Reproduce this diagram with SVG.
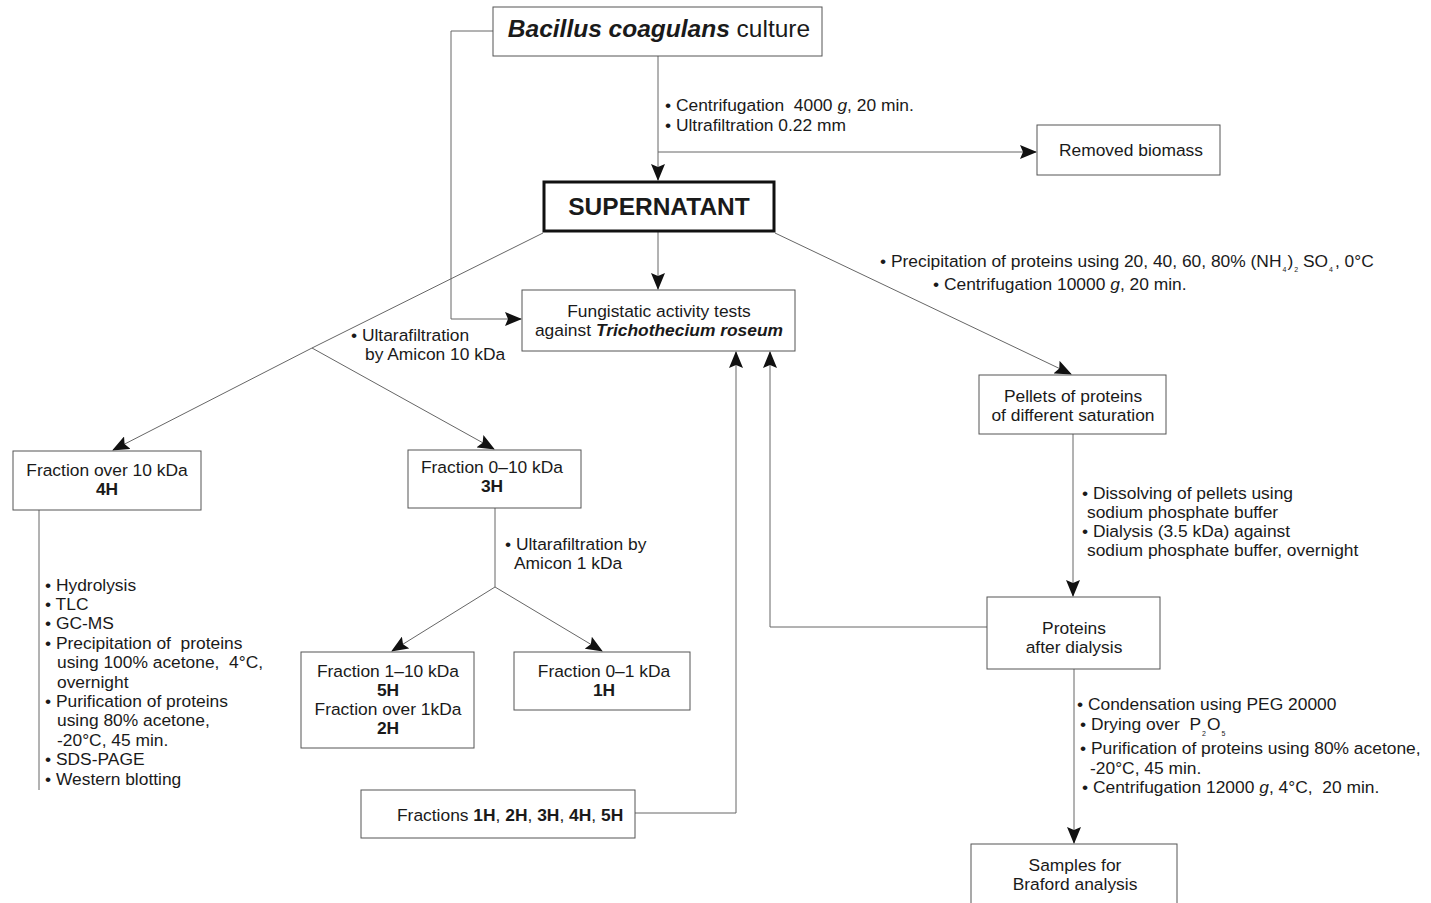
<svg xmlns="http://www.w3.org/2000/svg" width="1431" height="903" viewBox="0 0 1431 903">
<style>
text{font-family:"Liberation Sans",Arial,sans-serif;font-size:17.4px;fill:#1a1a1a}
.c{text-anchor:middle}
.b{font-weight:bold}
.bi{font-weight:bold;font-style:italic}
.big{font-size:24.5px}
.box{fill:#fff;stroke:#555;stroke-width:1}
.ln{fill:none;stroke:#666;stroke-width:1}
.arr{marker-end:url(#ah)}
.sub{font-size:7px}
</style>
<defs>
<marker id="ah" markerUnits="userSpaceOnUse" markerWidth="17" markerHeight="14" refX="16" refY="7" orient="auto" viewBox="0 0 17 14">
<path d="M0,0 L17,7 L0,14 L3,7 z" fill="#111"/>
</marker>
</defs>
<rect width="1431" height="903" fill="#fff"/>
<g id="connectors">
<path class="ln arr" d="M658,56 V180"/>
<path class="ln arr" d="M658,152 H1036"/>
<path class="ln arr" d="M493,31 H451 V319 H521"/>
<path class="ln arr" d="M658,232 V289"/>
<path class="ln arr" d="M543,233 L312,348 L113,450"/>
<path class="ln arr" d="M312,348 L494,449"/>
<path class="ln arr" d="M775,233 L1071,374"/>
<path class="ln arr" d="M1073,434 V596"/>
<path class="ln arr" d="M987,627 H770 V352"/>
<path class="ln arr" d="M635,813 H736 V352"/>
<path class="ln arr" d="M1074,669 V843"/>
<path class="ln" d="M39,510 V790"/>
<path class="ln" d="M495,508 V587"/>
<path class="ln arr" d="M495,587 L392,651"/>
<path class="ln arr" d="M495,587 L602,651"/>
</g>
<g id="labels">
<text x="665" y="111" xml:space="preserve">• Centrifugation  4000 <tspan font-style="italic">g</tspan>, 20 min.</text>
<text x="665" y="131">• Ultrafiltration 0.22 mm</text>
<text x="351" y="341">• Ultarafiltration</text>
<text x="365" y="360">by Amicon 10 kDa</text>
<text x="880" y="267" xml:space="preserve">• Precipitation of proteins using 20, 40, 60, 80% (NH<tspan class="sub" dx="1" dy="5">4</tspan><tspan dx="1" dy="-5">)</tspan><tspan class="sub" dx="1" dy="5">2</tspan><tspan dy="-5"> SO</tspan><tspan class="sub" dx="1" dy="5">4</tspan><tspan dx="2" dy="-5">, 0°C</tspan></text>
<text x="933" y="290">• Centrifugation 10000 <tspan font-style="italic">g</tspan>, 20 min.</text>
<text x="1082" y="499">• Dissolving of pellets using</text>
<text x="1087" y="518">sodium phosphate buffer</text>
<text x="1082" y="537">• Dialysis (3.5 kDa) against</text>
<text x="1087" y="556">sodium phosphate buffer, overnight</text>
<text x="505" y="550">• Ultarafiltration by</text>
<text x="514" y="569">Amicon 1 kDa</text>
<text x="45" y="591">• Hydrolysis</text>
<text x="45" y="610">• TLC</text>
<text x="45" y="629">• GC-MS</text>
<text x="45" y="649" xml:space="preserve">• Precipitation of  proteins</text>
<text x="57" y="668" xml:space="preserve">using 100% acetone,  4°C,</text>
<text x="57" y="688">overnight</text>
<text x="45" y="707">• Purification of proteins</text>
<text x="57" y="726">using 80% acetone,</text>
<text x="57" y="746">-20°C, 45 min.</text>
<text x="45" y="765">• SDS-PAGE</text>
<text x="45" y="785">• Western blotting</text>
<text x="1077" y="710">• Condensation using PEG 20000</text>
<text x="1080" y="730" xml:space="preserve">• Drying over  P<tspan class="sub" dx="1" dy="6">2</tspan><tspan dx="1" dy="-6">O</tspan><tspan class="sub" dx="1" dy="6">5</tspan></text>
<text x="1080" y="754">• Purification of proteins using 80% acetone,</text>
<text x="1090" y="774">-20°C, 45 min.</text>
<text x="1082" y="793" xml:space="preserve">• Centrifugation 12000 <tspan font-style="italic">g</tspan>, 4°C,  20 min.</text>
</g>
<g id="bacillus">
<rect class="box" x="493" y="7" width="329" height="49"/>
<text class="c big" x="659" y="37"><tspan class="bi">Bacillus coagulans</tspan> culture</text>
</g>
<g id="supernatant">
<rect x="544" y="182" width="230" height="49" fill="#fff" stroke="#111" stroke-width="3"/>
<text class="c b big" x="659" y="215">SUPERNATANT</text>
</g>
<g id="biomass">
<rect class="box" x="1037" y="125" width="183" height="50"/>
<text class="c" x="1131" y="156">Removed biomass</text>
</g>
<g id="fungistatic">
<rect class="box" x="522" y="290" width="273" height="61"/>
<text class="c" x="659" y="317">Fungistatic activity tests</text>
<text class="c" x="659" y="336">against <tspan class="bi">Trichothecium roseum</tspan></text>
</g>
<g id="pellets">
<rect class="box" x="979" y="375" width="187" height="59"/>
<text class="c" x="1073" y="402">Pellets of proteins</text>
<text class="c" x="1073" y="421">of different saturation</text>
</g>
<g id="fraction-over-10">
<rect class="box" x="13" y="451" width="188" height="59"/>
<text class="c" x="107" y="476">Fraction over 10 kDa</text>
<text class="c b" x="107" y="495">4H</text>
</g>
<g id="fraction-0-10">
<rect class="box" x="408" y="450" width="173" height="58"/>
<text class="c" x="492" y="473">Fraction 0–10 kDa</text>
<text class="c b" x="492" y="492">3H</text>
</g>
<g id="fraction-1-10">
<rect class="box" x="301" y="652" width="173" height="96"/>
<text class="c" x="388" y="677">Fraction 1–10 kDa</text>
<text class="c b" x="388" y="696">5H</text>
<text class="c" x="388" y="715">Fraction over 1kDa</text>
<text class="c b" x="388" y="734">2H</text>
</g>
<g id="fraction-0-1">
<rect class="box" x="514" y="652" width="176" height="58"/>
<text class="c" x="604" y="677">Fraction 0–1 kDa</text>
<text class="c b" x="604" y="696">1H</text>
</g>
<g id="fractions-all">
<rect class="box" x="361" y="790" width="274" height="48"/>
<text x="397" y="821">Fractions <tspan class="b">1H</tspan>, <tspan class="b">2H</tspan>, <tspan class="b">3H</tspan>, <tspan class="b">4H</tspan>, <tspan class="b">5H</tspan></text>
</g>
<g id="proteins-dialysis">
<rect class="box" x="987" y="597" width="173" height="72"/>
<text class="c" x="1074" y="634">Proteins</text>
<text class="c" x="1074" y="653">after dialysis</text>
</g>
<g id="samples">
<rect class="box" x="971" y="844" width="206" height="70"/>
<text class="c" x="1075" y="871">Samples for</text>
<text class="c" x="1075" y="890">Braford analysis</text>
</g>
</svg>
